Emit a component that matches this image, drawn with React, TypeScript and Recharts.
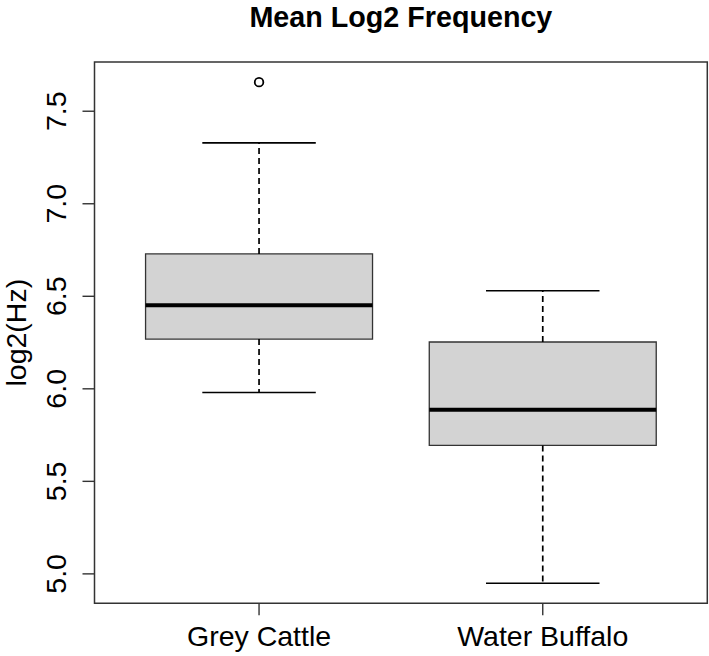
import React from 'react';
import { ComposedChart, XAxis, YAxis, ReferenceArea, ReferenceLine, Scatter } from 'recharts';

const categories = ['Grey Cattle', 'Water Buffalo'];
const positions = [1, 2];
const whiskerLow = [5.98, 4.949];
const q1 = [6.269, 5.694];
const median = [6.451, 5.887];
const q3 = [6.729, 6.253];
const whiskerHigh = [7.329, 6.53];
const outliers = [{ x: 1, y: 7.657 }];
const yTicks = [5.0, 5.5, 6.0, 6.5, 7.0, 7.5];

const X_DOMAIN: [number, number] = [0.42, 2.58];
const Y_DOMAIN: [number, number] = [4.841, 7.766];
const BOX_HALF = 0.4;
const CAP_HALF = 0.2;
const FONT = '"Liberation Sans", Arial, Helvetica, sans-serif';

const YTick = (props: any) => {
  const { x, y, payload } = props;
  return (
    <text
      x={x}
      y={y}
      transform={`rotate(-90, ${x}, ${y})`}
      textAnchor="middle"
      fontSize={28.5}
      fontFamily={FONT}
      fill="#000"
    >
      {Number(payload.value).toFixed(1)}
    </text>
  );
};

const XTick = (props: any) => {
  const { x, y, payload } = props;
  const idx = positions.indexOf(payload.value);
  return (
    <text x={x} y={y} textAnchor="middle" fontSize={28.5} fontFamily={FONT} fill="#000">
      {idx >= 0 ? categories[idx] : ''}
    </text>
  );
};

const Outlier = (props: any) => {
  const { cx, cy } = props;
  return <circle cx={cx} cy={cy} r={4.3} fill="none" stroke="#000" strokeWidth={1.8} />;
};

export default function App() {
  return (
    <div style={{ position: 'absolute', left: 0, top: 0, width: 709, height: 656, background: '#fff' }}>
      <ComposedChart
        width={709}
        height={656}
        margin={{ top: 62, right: 1.7, bottom: 0, left: 0 }}
      >
        <XAxis
          type="number"
          dataKey="x"
          domain={X_DOMAIN}
          ticks={positions}
          allowDataOverflow
          axisLine={false}
          tickSize={12}
          tickMargin={30.7}
          tickLine={{ stroke: '#333', strokeWidth: 1.4 }}
          tick={<XTick />}
          height={52.7}
          interval={0}
        />
        <YAxis
          type="number"
          dataKey="y"
          domain={Y_DOMAIN}
          ticks={yTicks}
          allowDataOverflow
          axisLine={false}
          tickSize={12}
          tickMargin={16.5}
          tickLine={{ stroke: '#333', strokeWidth: 1.4 }}
          tick={<YTick />}
          width={94.5}
          interval={0}
        />
        {positions.map((p, i) => (
          <ReferenceLine
            key={`wu${i}`}
            segment={[{ x: p, y: q3[i] }, { x: p, y: whiskerHigh[i] }]}
            stroke="#000"
            strokeWidth={1.7}
            strokeDasharray="6 4"
          />
        ))}
        {positions.map((p, i) => (
          <ReferenceLine
            key={`wl${i}`}
            segment={[{ x: p, y: q1[i] }, { x: p, y: whiskerLow[i] }]}
            stroke="#000"
            strokeWidth={1.7}
            strokeDasharray="6 4"
          />
        ))}
        {positions.map((p, i) => (
          <ReferenceLine
            key={`cu${i}`}
            segment={[{ x: p - CAP_HALF, y: whiskerHigh[i] }, { x: p + CAP_HALF, y: whiskerHigh[i] }]}
            stroke="#000"
            strokeWidth={1.6}
          />
        ))}
        {positions.map((p, i) => (
          <ReferenceLine
            key={`cl${i}`}
            segment={[{ x: p - CAP_HALF, y: whiskerLow[i] }, { x: p + CAP_HALF, y: whiskerLow[i] }]}
            stroke="#000"
            strokeWidth={1.6}
          />
        ))}
        {positions.map((p, i) => (
          <ReferenceArea
            key={`b${i}`}
            x1={p - BOX_HALF}
            x2={p + BOX_HALF}
            y1={q1[i]}
            y2={q3[i]}
            fill="#d3d3d3"
            fillOpacity={1}
            stroke="#333"
            strokeWidth={1.3}
          />
        ))}
        {positions.map((p, i) => (
          <ReferenceLine
            key={`m${i}`}
            segment={[{ x: p - BOX_HALF, y: median[i] }, { x: p + BOX_HALF, y: median[i] }]}
            stroke="#000"
            strokeWidth={4}
          />
        ))}
        <ReferenceArea
          x1={X_DOMAIN[0]}
          x2={X_DOMAIN[1]}
          y1={Y_DOMAIN[0]}
          y2={Y_DOMAIN[1]}
          fill="none"
          stroke="#333"
          strokeWidth={1.5}
        />
        <Scatter data={outliers} dataKey="y" shape={<Outlier />} isAnimationActive={false} />
      </ComposedChart>
      <svg
        width={709}
        height={656}
        style={{ position: 'absolute', left: 0, top: 0, pointerEvents: 'none' }}
      >
        <text x={400.9} y={27} textAnchor="middle" fontSize={28.7} fontWeight="bold" fontFamily={FONT} fill="#000">
          Mean Log2 Frequency
        </text>
        <text
          x={26.5}
          y={332.7}
          transform="rotate(-90, 26.5, 332.7)"
          textAnchor="middle"
          fontSize={28.5}
          fontFamily={FONT}
          fill="#000"
        >
          log2(Hz)
        </text>
      </svg>
    </div>
  );
}
